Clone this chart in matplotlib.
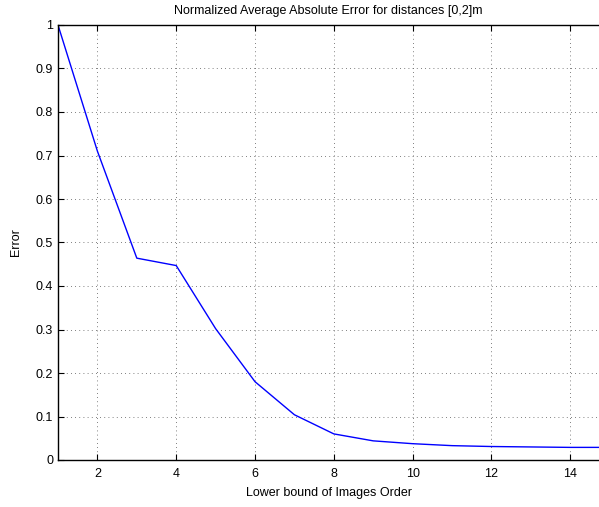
import matplotlib.pyplot as plt

plt.rcParams['font.family'] = ['Liberation Sans', 'DejaVu Sans']

order = [1, 2, 3, 4, 5, 6, 7, 8, 9, 10, 11, 12, 13, 14, 15]
error = [1.0, 0.71, 0.464, 0.447, 0.302, 0.18, 0.104, 0.06, 0.044, 0.0375,
         0.033, 0.031, 0.030, 0.029, 0.029]

fig = plt.figure(figsize=(5.99, 5.07), dpi=100)
ax = fig.add_axes([58 / 599, 47 / 507, 1 - 58 / 599, 435 / 507])

ax.plot(order, error, color='blue', linewidth=1)

ax.set_xlim(1, 14.73)
ax.set_ylim(0, 1)
ax.set_xticks([2, 4, 6, 8, 10, 12, 14])
ax.set_yticks([i / 10 for i in range(11)])
ax.set_yticklabels(['0', '0.1', '0.2', '0.3', '0.4', '0.5', '0.6', '0.7', '0.8', '0.9', '1'])
ax.tick_params(direction='in', top=True, right=False, labelsize=9, length=4, width=0.8)
ax.tick_params(axis='x', pad=6)
ax.grid(True, linestyle=(0, (1, 4)), color='#555555', linewidth=0.6)
ax.spines['right'].set_visible(False)
for s in ['left', 'bottom', 'top']:
    ax.spines[s].set_linewidth(1.0)

ax.set_title('Normalized Average Absolute Error for distances [0,2]m', fontsize=9, pad=8)
ax.set_xlabel('Lower bound of Images Order', fontsize=9, labelpad=5)
ax.set_ylabel('Error', fontsize=9, labelpad=10)

fig.savefig('out.png', dpi=100)
